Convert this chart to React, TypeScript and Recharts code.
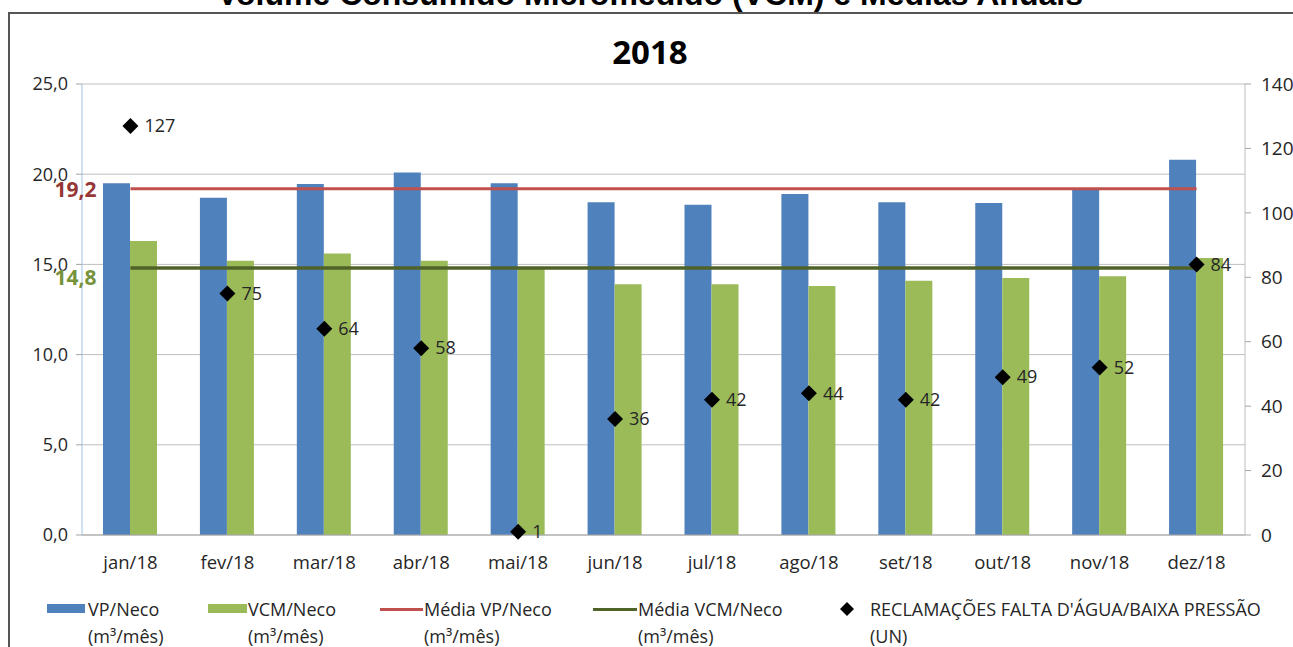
import React from 'react';
import { ComposedChart, Bar, Line, Scatter, XAxis, YAxis, CartesianGrid, LabelList } from 'recharts';

const MONTHS = ['jan/18', 'fev/18', 'mar/18', 'abr/18', 'mai/18', 'jun/18', 'jul/18', 'ago/18', 'set/18', 'out/18', 'nov/18', 'dez/18'];
const VP_NECO = [19.5, 18.7, 19.45, 20.1, 19.5, 18.45, 18.3, 18.9, 18.45, 18.4, 19.2, 20.8];
const VCM_NECO = [16.3, 15.2, 15.6, 15.2, 14.8, 13.9, 13.9, 13.8, 14.1, 14.25, 14.35, 15.35];
const MEDIA_VP = 19.2;
const MEDIA_VCM = 14.8;
const RECLAMACOES = [127, 75, 64, 58, 1, 36, 42, 44, 42, 49, 52, 84];
const LEFT_TICKS = [0, 5, 10, 15, 20, 25];
const RIGHT_TICKS = [0, 20, 40, 60, 80, 100, 120, 140];

const BLUE = '#4F81BD';
const GREEN = '#9BBB59';
const RED = '#C0504D';
const DARK_GREEN = '#4F6228';
const FONT = '"Open Sans", sans-serif';

const chartData = MONTHS.map((month, i) => ({
    month,
    vp: VP_NECO[i],
    vcm: VCM_NECO[i],
    mediaVp: MEDIA_VP,
    mediaVcm: MEDIA_VCM,
    recl: RECLAMACOES[i],
}));

const Diamond = (props: any) => {
    const { cx, cy } = props;
    const r = 8;
    return <polygon points={`${cx},${cy - r} ${cx + r},${cy} ${cx},${cy + r} ${cx - r},${cy}`} fill="#000" />;
};

const scatterLabel = (props: any) => {
    const { x, y, width, height, value } = props;
    const cx = x + width / 2;
    const cy = y + height / 2;
    return (
        <text x={cx + 14} y={cy} dy="0.35em" fill="#262626" fontSize={18} fontFamily={FONT}>
            {value}
        </text>
    );
};

// the average value is written once, left of the y axis
const makeMediaLabel = (text: string, color: string, dy: number) => (props: any) => {
    const { x, y, index } = props;
    if (index !== 0) return null;
    return (
        <text x={x - 34} y={y + dy} dy="0.35em" textAnchor="end" fill={color} fontSize={21} fontWeight="bold" fontFamily={FONT}>
            {text}
        </text>
    );
};

const fmtLeft = (v: number) => v.toFixed(1).replace('.', ',');

const LegendItem: React.FC<{ left: number; swatch: React.ReactNode; line1: string; line2: string; textLeft: number }> = ({ left, swatch, line1, line2, textLeft }) => (
    <div style={{ position: 'absolute', left, top: 0 }}>
        {swatch}
        <div style={{ position: 'absolute', left: textLeft, top: 0, whiteSpace: 'nowrap', lineHeight: '27px' }}>
            <div>{line1}</div>
            <div>{line2}</div>
        </div>
    </div>
);

const App: React.FC = () => {
    return (
        <div style={{ position: 'absolute', left: 0, top: 0, width: 1293, height: 647, overflow: 'hidden', background: '#fff', fontFamily: FONT }}>
            <div style={{ position: 'absolute', left: 0, top: -24, width: 1300, textAlign: 'center', fontFamily: '"Liberation Sans", Arial, sans-serif', fontWeight: 'bold', fontSize: 32, lineHeight: '36px', color: '#000' }}>
                Volume Consumido Micromedido (VCM) e Médias Anuais
            </div>
            <div style={{ position: 'absolute', left: 8, top: 12, width: 1400, height: 700, border: '2px solid #555', boxSizing: 'border-box' }} />
            <div style={{ position: 'absolute', left: 0, top: 31, width: 1300, textAlign: 'center', fontWeight: 'bold', fontSize: 33, lineHeight: '42px', color: '#000' }}>
                2018
            </div>
            <div style={{ position: 'absolute', left: 0, top: 0 }}>
                <ComposedChart
                    width={1293}
                    height={647}
                    data={chartData}
                    margin={{ top: 84, right: 0, left: 0, bottom: 82 }}
                    barSize={27}
                    barGap={0}
                >
                    <CartesianGrid vertical={false} stroke="#BFBFBF" yAxisId="left" />
                    <XAxis
                        dataKey="month"
                        height={30}
                        tickLine={false}
                        axisLine={{ stroke: '#A6A6A6' }}
                        tick={{ fontSize: 18.5, fill: '#262626', fontFamily: FONT }}
                        tickMargin={15}
                        interval={0}
                    />
                    <YAxis
                        yAxisId="left"
                        width={82}
                        domain={[0, 25]}
                        ticks={LEFT_TICKS}
                        tickFormatter={fmtLeft}
                        axisLine={{ stroke: '#9DC3E6' }}
                        tickLine={{ stroke: '#A6A6A6' }}
                        tickSize={6}
                        tickMargin={8}
                        tick={{ fontSize: 18, fill: '#262626', fontFamily: FONT }}
                        allowDataOverflow
                    />
                    <YAxis
                        yAxisId="right"
                        orientation="right"
                        width={48}
                        domain={[0, 140]}
                        ticks={RIGHT_TICKS}
                        axisLine={{ stroke: '#BFBFBF' }}
                        tickLine={{ stroke: '#A6A6A6' }}
                        tickSize={6}
                        tickMargin={10}
                        tick={{ fontSize: 19, fill: '#262626', fontFamily: FONT, textAnchor: 'start' }}
                    />
                    <Bar yAxisId="left" dataKey="vp" fill={BLUE} isAnimationActive={false} />
                    <Bar yAxisId="left" dataKey="vcm" fill={GREEN} isAnimationActive={false} />
                    <Line
                        yAxisId="left"
                        dataKey="mediaVp"
                        stroke={RED}
                        strokeWidth={3}
                        dot={false}
                        isAnimationActive={false}
                        label={makeMediaLabel('19,2', '#953735', 1)}
                    />
                    <Line
                        yAxisId="left"
                        dataKey="mediaVcm"
                        stroke={DARK_GREEN}
                        strokeWidth={3.5}
                        dot={false}
                        isAnimationActive={false}
                        label={makeMediaLabel('14,8', '#77933C', 10)}
                    />
                    <Scatter yAxisId="right" dataKey="recl" shape={<Diamond />} isAnimationActive={false}>
                        <LabelList dataKey="recl" content={scatterLabel} />
                    </Scatter>
                </ComposedChart>
            </div>
            <div style={{ position: 'absolute', left: 0, top: 596, width: 1293, height: 54, fontSize: 18, color: '#262626' }}>
                <LegendItem left={47} textLeft={41} line1="VP/Neco" line2="(m³/mês)"
                    swatch={<div style={{ position: 'absolute', left: 0, top: 8, width: 38, height: 9, background: BLUE }} />} />
                <LegendItem left={208} textLeft={40} line1="VCM/Neco" line2="(m³/mês)"
                    swatch={<div style={{ position: 'absolute', left: 0, top: 8, width: 39, height: 9, background: GREEN }} />} />
                <LegendItem left={380} textLeft={44} line1="Média VP/Neco" line2="(m³/mês)"
                    swatch={<div style={{ position: 'absolute', left: 0, top: 12, width: 43, height: 3, background: RED }} />} />
                <LegendItem left={593} textLeft={45} line1="Média VCM/Neco" line2="(m³/mês)"
                    swatch={<div style={{ position: 'absolute', left: 0, top: 12, width: 44, height: 3, background: DARK_GREEN }} />} />
                <LegendItem left={840} textLeft={30} line1="RECLAMAÇÕES FALTA D'ÁGUA/BAIXA PRESSÃO" line2="(UN)"
                    swatch={<svg style={{ position: 'absolute', left: 0, top: 6 }} width={14} height={14}><polygon points="7,0 14,7 7,14 0,7" fill="#000" /></svg>} />
            </div>
        </div>
    );
};

export default App;
